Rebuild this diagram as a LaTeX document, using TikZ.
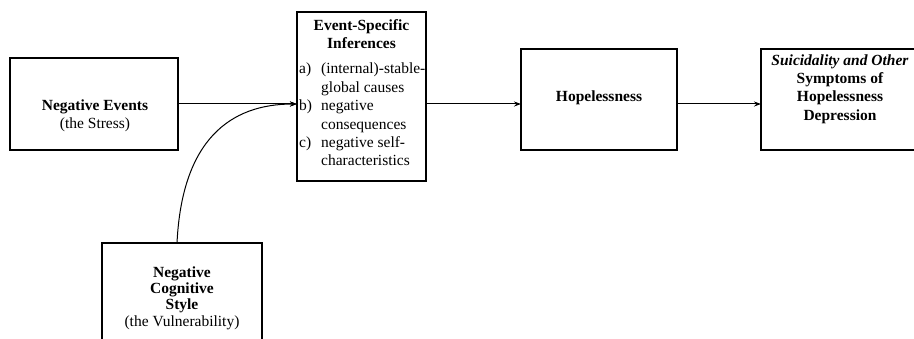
\documentclass[tikz,border=0pt]{standalone}
\usepackage{fontspec}
\setmainfont{Liberation Serif}
\usetikzlibrary{arrows.meta}
\begin{document}
\begin{tikzpicture}[x=1pt,y=-1pt,
  box/.style={draw, line width=1.1pt, inner sep=0pt, outer sep=0pt, anchor=north west},
  openbox/.style={line width=1.1pt},
  txt/.style={font=\fontsize{15.5}{18.4}\selectfont, align=center, inner sep=0pt},
  item/.style={font=\fontsize{15.5}{18.4}\selectfont, inner sep=0pt, anchor=base west},
  arr/.style={-{Stealth[length=7pt,width=5pt]}, line width=1pt}]
\useasboundingbox (0,0) rectangle (914,339);
\clip (0,0) rectangle (914,339);

% boxes
\node[box, minimum width=168pt, minimum height=92pt]  (ev)  at (10,58)  {};
\node[box, minimum width=129pt, minimum height=169pt] (esi) at (297,12) {};
\node[box, minimum width=156pt, minimum height=101pt] (hop) at (521,49) {};
\node[box, draw=none, minimum width=180pt, minimum height=101pt] (sui) at (761,49) {};
\node[box, draw=none, minimum width=160pt, minimum height=120pt] (vul) at (102,243) {};
% the last two boxes run past the page edge, so only their visible sides are drawn
\draw[openbox] (sui.north east) -- (sui.north west) -- (sui.south west) -- (sui.south east);
\draw[openbox] (vul.south west) -- (vul.north west) -- (vul.north east) -- (vul.south east);

% box texts
\node[txt] (evt) at (95,116) {\textbf{Negative Events}\\(the Stress)};
\node[txt] (esit) at (361.5,34) {\textbf{Event-Specific}\\\textbf{Inferences}};
\node[item] (la) at (299,74) {a)};
\node[item] (ia1) at (321,74) {(internal)-stable-};
\node[item] (ia2) at (321,92.4) {global causes};
\node[item] (lb) at (299,110.8) {b)};
\node[item] (ib1) at (321,110.8) {negative};
\node[item] (ib2) at (321,129.2) {consequences};
\node[item] (lc) at (299,147.6) {c)};
\node[item] (ic1) at (321,147.6) {negative self-};
\node[item] (ic2) at (321,166) {characteristics};
\node[txt] (hopt) at (599,98) {\textbf{Hopelessness}};
\node[txt] (suit) at (840,89) {\textbf{\textit{Suicidality and Other}}\\\textbf{Symptoms of}\\\textbf{Hopelessness}\\\textbf{Depression}};
\node[txt, font=\fontsize{15.5}{16.2}\selectfont] (vult) at (182,298) {\textbf{Negative}\\\textbf{Cognitive}\\\textbf{Style}\\(the Vulnerability)};

% connectors
\coordinate (a1) at (esi.west |- ev.east);
\draw[arr] (ev.east) -- (a1);
\draw[arr] (esi.east |- ev.east) -- (hop.west |- ev.east);
\draw[arr] (hop.east |- ev.east) -- (sui.west |- ev.east);
\draw[arr] ([xshift=-5pt]vul.north) .. controls (182,140) and (230,104) .. (a1);
\end{tikzpicture}
\end{document}
